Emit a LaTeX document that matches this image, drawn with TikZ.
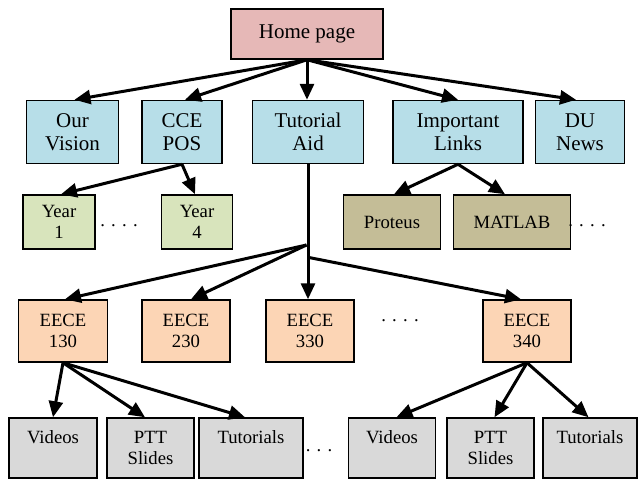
\documentclass[tikz,border=0pt]{standalone}
\usepackage{fontspec}
\setmainfont{Liberation Serif}[Ligatures=TeX]
\usetikzlibrary{arrows.meta}
\definecolor{cpink}{RGB}{230,184,183}
\definecolor{cblue}{RGB}{183,222,232}
\definecolor{cgreen}{RGB}{216,228,188}
\definecolor{colive}{RGB}{196,189,151}
\definecolor{corange}{RGB}{252,213,181}
\definecolor{cgray}{RGB}{217,217,217}
\newcommand{\bigfnt}{\rmfamily\fontsize{21}{23}\selectfont}
\newcommand{\smlfnt}{\rmfamily\fontsize{18.7}{21.5}\selectfont}
\tikzset{
  box/.style={draw, line width=1.5pt, inner sep=0pt, align=center},
  bigbox/.style={box, font=\bigfnt},
  smlbox/.style={box, font=\smlfnt},
  arr/.style={line width=3pt, -{Triangle[length=16pt,width=14pt]}},
  dots/.style={font=\smlfnt, inner sep=0pt, anchor=base}
}
\begin{document}
\begin{tikzpicture}[x=1pt,y=-1pt]
\useasboundingbox (0,0) rectangle (638,480);
% row 1
\node[bigbox, fill=cpink, minimum width=152pt, minimum height=50pt] (home) at (307,34) {Home page};
% row 2
\node[bigbox, fill=cblue, minimum width=92pt, minimum height=63pt] (our) at (72.5,132) {Our\\Vision};
\node[bigbox, fill=cblue, minimum width=80pt, minimum height=63pt] (cce) at (182,132) {CCE\\POS};
\node[bigbox, fill=cblue, minimum width=111pt, minimum height=63pt] (tut) at (308,132) {Tutorial\\Aid};
\node[bigbox, fill=cblue, minimum width=130pt, minimum height=63pt] (imp) at (458,132) {Important\\Links};
\node[bigbox, fill=cblue, minimum width=89pt, minimum height=63pt] (du) at (580,132) {DU\\News};
% row 3
\node[smlbox, fill=cgreen, minimum width=72pt, minimum height=54pt] (y1) at (59,222) {Year\\1};
\node[smlbox, fill=cgreen, minimum width=71pt, minimum height=54pt] (y4) at (197,222) {Year\\4};
\node[smlbox, fill=colive, minimum width=97pt, minimum height=54pt] (prot) at (392,222) {Proteus};
\node[smlbox, fill=colive, minimum width=117pt, minimum height=54pt] (mat) at (512,222) {MATLAB};
\node[dots] (d1) at (119,226.5) {. . . .};
\node[dots] (d2) at (587,226.5) {. . . .};
% row 4
\node[smlbox, fill=corange, minimum width=89pt, minimum height=62pt] (e130) at (63,331) {EECE\\130};
\node[smlbox, fill=corange, minimum width=88pt, minimum height=62pt] (e230) at (186,331) {EECE\\230};
\node[smlbox, fill=corange, minimum width=88pt, minimum height=62pt] (e330) at (310,331) {EECE\\330};
\node[smlbox, fill=corange, minimum width=88pt, minimum height=62pt] (e340) at (527,331) {EECE\\340};
\node[dots] (d3) at (400,321.5) {. . . .};
% row 5
\node[smlbox, fill=cgray, minimum width=88pt, minimum height=60pt] (v1) at (53,448) {Videos\\\mbox{}};
\node[smlbox, fill=cgray, minimum width=87pt, minimum height=60pt] (p1) at (150.5,448) {PTT\\Slides};
\node[smlbox, fill=cgray, minimum width=104pt, minimum height=60pt] (t1) at (251,448) {Tutorials\\\mbox{}};
\node[smlbox, fill=cgray, minimum width=87pt, minimum height=60pt] (v2) at (392,448) {Videos\\\mbox{}};
\node[smlbox, fill=cgray, minimum width=87pt, minimum height=60pt] (p2) at (490.5,448) {PTT\\Slides};
\node[smlbox, fill=cgray, minimum width=94pt, minimum height=60pt] (t2) at (590,448) {Tutorials\\\mbox{}};
\node[dots] (d4) at (319,451.5) {.\,\,.\,\,.};
% junctions
\coordinate (jl) at (306.5,245);
\coordinate (jr) at (309,257.5);
% arrows from home
\draw[arr] (home.south) -- ([xshift=2pt]our.north);
\draw[arr] (home.south) -- ([xshift=3pt]cce.north);
\draw[arr] (home.south) -- (home.south |- tut.north);
\draw[arr] (home.south) -- (imp.north);
\draw[arr] (home.south) -- ([xshift=-4pt]du.north);
% CCE POS
\draw[arr] (cce.south) -- ([xshift=2pt]y1.north);
\draw[arr] (cce.south) -- ([xshift=-2pt]y4.north);
% Important links
\draw[arr] (imp.south) -- ([xshift=2pt]prot.north);
\draw[arr] (imp.south) -- ([xshift=-7pt]mat.north);
% Tutorial aid
\draw[arr] (tut.south) -- (tut.south |- e330.north);
\draw[arr] (jl) -- ([xshift=2pt]e130.north);
\draw[arr] (jl) -- ([xshift=5pt]e230.north);
\draw[arr] (jr) -- ([xshift=-6pt]e340.north);
% EECE 130
\draw[arr] (e130.south) -- ([xshift=0pt]v1.north);
\draw[arr] (e130.south) -- ([xshift=-5.5pt]p1.north);
\draw[arr] (e130.south) -- ([xshift=-6pt]t1.north);
% EECE 340
\draw[arr] (e340.south) -- ([xshift=4.5pt]v2.north);
\draw[arr] (e340.south) -- ([xshift=4pt]p2.north);
\draw[arr] (e340.south) -- ([xshift=-1.5pt]t2.north);
\end{tikzpicture}
\end{document}
